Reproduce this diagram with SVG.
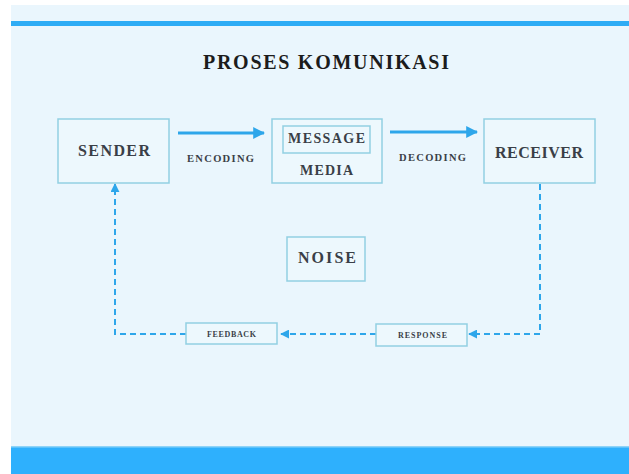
<svg xmlns="http://www.w3.org/2000/svg" width="629" height="474" viewBox="0 0 629 474">
<style>
.box{fill:#edf8fd;stroke:#92d0e2;stroke-width:1.5}
.t{font-family:"Liberation Serif","Times New Roman",serif;font-weight:bold;fill:#3a3f47;text-anchor:middle}
.solid{stroke:#2ea6ea;stroke-width:3;fill:none}
.dash{stroke:#2ea6ea;stroke-width:2;fill:none;stroke-dasharray:6 4}
</style>
<defs>
<marker id="ah" viewBox="0 0 10 10" refX="9" refY="5" markerWidth="4" markerHeight="4" markerUnits="strokeWidth" orient="auto">
<path d="M0,0 L10,5 L0,10 z" fill="#2ea6ea"/>
</marker>
<marker id="ahs" viewBox="0 0 10 10" refX="9" refY="5" markerWidth="4.5" markerHeight="4.5" markerUnits="strokeWidth" orient="auto">
<path d="M0,0 L10,5 L0,10 z" fill="#2ea6ea"/>
</marker>
</defs>
<rect x="0" y="0" width="629" height="474" fill="#ffffff"/>
<rect x="11" y="5" width="618" height="469" fill="#eaf6fd"/>
<rect x="11" y="21" width="618" height="5" fill="#2eacf5"/>
<rect x="11" y="447" width="618" height="27" fill="#2eb0fd"/>
<rect x="11" y="446" width="618" height="1.5" fill="#8ed3f8"/>
<text class="t" x="326" y="69" font-size="20" textLength="246" lengthAdjust="spacing" fill="#1a1a1a" style="fill:#1c1c1c">PROSES KOMUNIKASI</text>
<g id="connectors">
<line class="solid" x1="178" y1="133" x2="264" y2="133" marker-end="url(#ah)"/>
<line class="solid" x1="390" y1="132" x2="477" y2="132" marker-end="url(#ah)"/>
<polyline class="dash" points="540,184 540,334 469,334" marker-end="url(#ahs)"/>
<line class="dash" x1="376" y1="334" x2="281" y2="334" marker-end="url(#ahs)"/>
<polyline class="dash" points="186,334 115,334 115,184" marker-end="url(#ahs)"/>
<text class="t" x="220.5" y="162" font-size="10.5" textLength="67" lengthAdjust="spacing">ENCODING</text>
<text class="t" x="432.5" y="161" font-size="10.5" textLength="67" lengthAdjust="spacing">DECODING</text>
</g>
<g id="sender">
<rect class="box" x="58" y="119" width="111" height="64"/>
<text class="t" x="114" y="156" font-size="16" textLength="72" lengthAdjust="spacing">SENDER</text>
</g>
<g id="media">
<rect class="box" x="272" y="119" width="110" height="64"/>
<rect class="box" x="283" y="126" width="87" height="27"/>
<text class="t" x="326.5" y="143" font-size="14" textLength="77" lengthAdjust="spacing">MESSAGE</text>
<text class="t" x="326.5" y="175" font-size="14" textLength="53" lengthAdjust="spacing">MEDIA</text>
</g>
<g id="receiver">
<rect class="box" x="484" y="119" width="111" height="64"/>
<text class="t" x="539" y="158" font-size="16" textLength="88" lengthAdjust="spacing">RECEIVER</text>
</g>
<g id="noise">
<rect class="box" x="287" y="237" width="78" height="44"/>
<text class="t" x="327" y="263" font-size="16" textLength="58" lengthAdjust="spacing">NOISE</text>
</g>
<g id="feedback">
<rect class="box" x="186" y="323" width="91" height="21"/>
<text class="t" x="231.5" y="337" font-size="8" textLength="49" lengthAdjust="spacing">FEEDBACK</text>
</g>
<g id="response">
<rect class="box" x="376" y="324" width="91" height="22"/>
<text class="t" x="422.5" y="338" font-size="8" textLength="49" lengthAdjust="spacing">RESPONSE</text>
</g>
</svg>
